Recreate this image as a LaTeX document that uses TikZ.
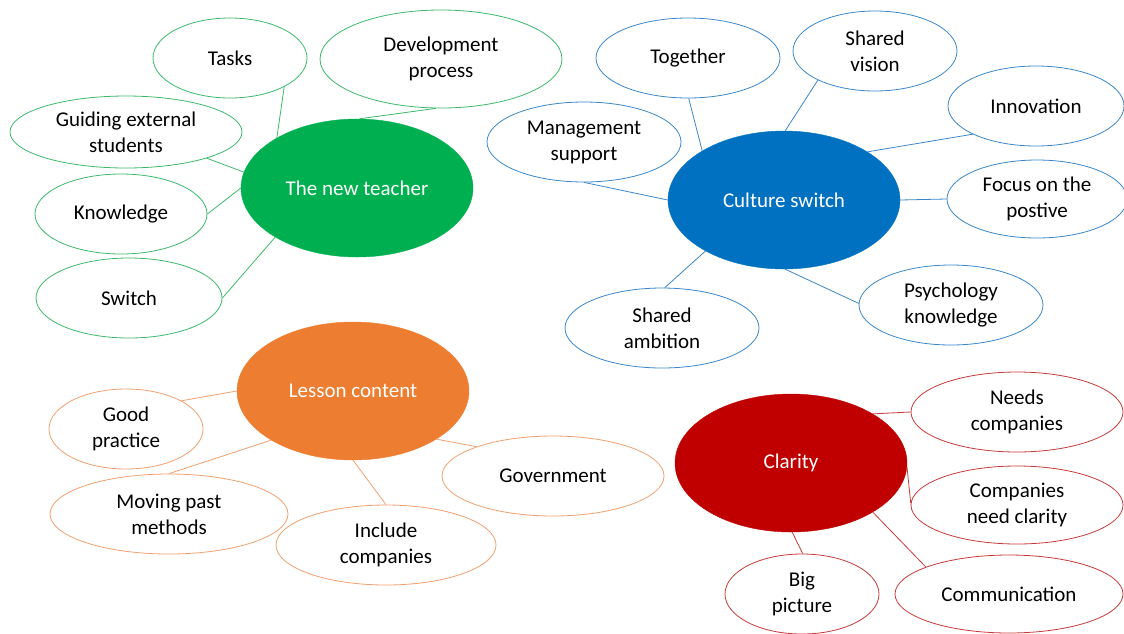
\documentclass[tikz,border=0pt]{standalone}
\usepackage{fontspec}
\setmainfont{Carlito}
\usetikzlibrary{shapes.geometric}
\definecolor{mgreen}{HTML}{00B050}
\definecolor{mblue}{HTML}{0070C0}
\definecolor{morange}{HTML}{ED7D31}
\definecolor{mred}{HTML}{C00000}
\definecolor{lgreen}{HTML}{3DB86B}
\definecolor{lblue}{HTML}{3B86C8}
\definecolor{lorange}{HTML}{F0A070}
\definecolor{lred}{HTML}{C83A3A}

\begin{document}
\begin{tikzpicture}[x=1pt,y=-1pt,
  hub/.style={ellipse,fill=#1,draw=#1,text=white,inner sep=0pt,
    minimum width=232pt,minimum height=138pt,font=\fontsize{21}{26}\selectfont},
  leaf/.style={ellipse,draw=#1,line width=0.8pt,align=center,inner sep=0pt,
    font=\fontsize{21}{26}\selectfont},
  link/.style={draw=#1,line width=0.8pt}]
  \useasboundingbox (0,0) rectangle (1124,633);

  % the new teacher
  \node[hub=mgreen] (teacher) at (357,188) {The new teacher};
  \node[leaf=lgreen,minimum width=154pt,minimum height=80pt] (tasks) at (230,58) {Tasks};
  \node[leaf=lgreen,minimum width=242pt,minimum height=98pt] (devel) at (441,59) {Development\\process};
  \node[leaf=lgreen,minimum width=232pt,minimum height=72pt] (guiding) at (126,132) {Guiding external\\students};
  \node[leaf=lgreen,minimum width=172pt,minimum height=80pt] (knowl) at (121,214) {Knowledge};
  \node[leaf=lgreen,minimum width=186pt,minimum height=80pt] (switch) at (129,298) {Switch};
  \draw[link=lgreen] (tasks.-28) -- (teacher.148);
  \draw[link=lgreen] (devel.-96) -- (teacher.88);
  \draw[link=lgreen] (guiding.-18) -- (teacher.172);
  \draw[link=lgreen] (knowl.0) -- (teacher.180);
  \draw[link=lgreen] (switch.0) -- (teacher.211);

  % culture switch
  \node[hub=mblue] (culture) at (784,200) {Culture switch};
  \node[leaf=lblue,minimum width=184pt,minimum height=80pt] (together) at (688,58) {Together};
  \node[leaf=lblue,minimum width=164pt,minimum height=80pt] (vision) at (875,51) {Shared\\vision};
  \node[leaf=lblue,minimum width=176pt,minimum height=80pt] (innov) at (1036,106) {Innovation};
  \node[leaf=lblue,minimum width=180pt,minimum height=78pt] (focus) at (1037,199) {Focus on the\\postive};
  \node[leaf=lblue,minimum width=184pt,minimum height=80pt] (psych) at (951,305) {Psychology\\knowledge};
  \node[leaf=lblue,minimum width=194pt,minimum height=80pt] (ambition) at (662,328) {Shared\\ambition};
  \node[leaf=lblue,minimum width=194pt,minimum height=80pt] (manage) at (584,142) {Management\\support};
  \draw[link=lblue] (together.-89) -- (culture.149);
  \draw[link=lblue] (vision.207) -- (culture.89);
  \draw[link=lblue] (innov.204) -- (culture.30);
  \draw[link=lblue] (focus.180) -- (culture.0);
  \draw[link=lblue] (psych.179) -- (culture.-89);
  \draw[link=lblue] (ambition.86) -- (culture.213);
  \draw[link=lblue] (manage.-90) -- (culture.180);

  % lesson content
  \node[hub=morange] (lesson) at (353,391) {Lesson content};
  \node[leaf=lorange,minimum width=154pt,minimum height=80pt] (good) at (126,429) {Good\\practice};
  \node[leaf=lorange,minimum width=238pt,minimum height=80pt] (moving) at (169,514) {Moving past\\methods};
  \node[leaf=lorange,minimum width=220pt,minimum height=80pt] (include) at (386,545) {Include\\companies};
  \node[leaf=lorange,minimum width=222pt,minimum height=80pt] (govern) at (553,476) {Government};
  \draw[link=lorange] (good.27) -- (lesson.180);
  \draw[link=lorange] (moving.90) -- (lesson.211);
  \draw[link=lorange] (include.90) -- (lesson.-90);
  \draw[link=lorange] (govern.159) -- (lesson.-30);

  % clarity
  \node[hub=mred] (clarity) at (791,463) {Clarity};
  \node[leaf=lred,minimum width=212pt,minimum height=80pt] (needs) at (1017,412) {Needs\\companies};
  \node[leaf=lred,minimum width=212pt,minimum height=78pt] (compclar) at (1017,505) {Companies\\need clarity};
  \node[leaf=lred,minimum width=154pt,minimum height=80pt] (bigpic) at (802,594) {Big\\picture};
  \node[leaf=lred,minimum width=228pt,minimum height=78pt] (commun) at (1009,594) {Communication};
  \draw[link=lred] (needs.180) -- (clarity.31);
  \draw[link=lred] (compclar.179) -- (clarity.-2);
  \draw[link=lred] (bigpic.89) -- (clarity.-89);
  \draw[link=lred] (commun.162) -- (clarity.-31);
\end{tikzpicture}
\end{document}
